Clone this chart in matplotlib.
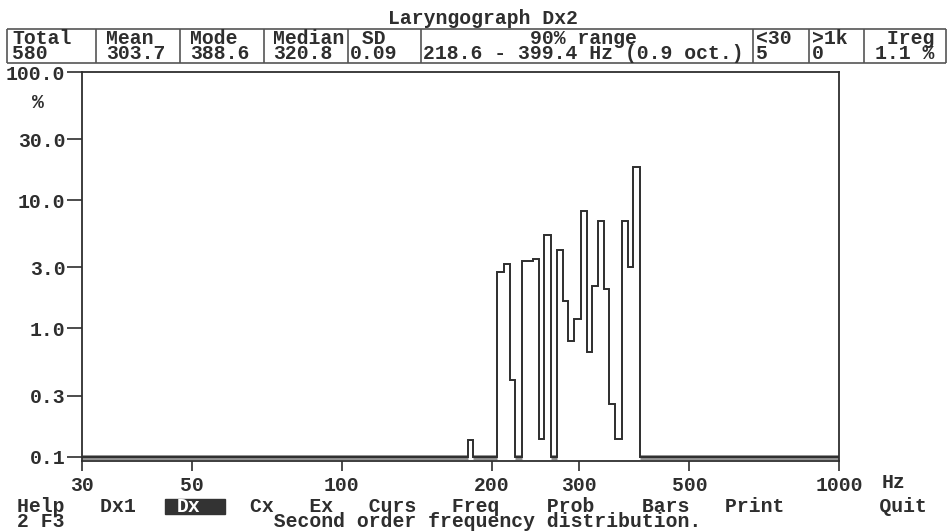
import numpy as np
import matplotlib.pyplot as plt
from matplotlib.patches import Rectangle

# histograma de frecuencias (Dx2), % por bin, escala log en ambos ejes
bin_edges_hz = [30, 179.6, 183.8, 205.4, 212.2, 217.9, 223.0, 230.0, 242.7, 249.2,
                255.0, 263.1, 270.5, 278.2, 285.5, 293.5, 302.3, 310.9, 319.1,
                328.0, 337.3, 345.2, 354.4, 365.6, 375.9, 385.8, 398.0, 1000]
bin_pct = [0.1, 0.135, 0.1, 2.74, 3.18, 0.40, 0.1, 3.38, 3.48, 0.137,
           5.4, 0.1, 4.12, 1.63, 0.80, 1.18, 8.3, 0.65, 2.16,
           6.9, 2.03, 0.26, 0.137, 6.9, 3.0, 18.1, 0.1]
floor_pct = 0.1

x_ticks = [30, 50, 100, 200, 300, 500, 1000]
y_ticks = [0.1, 0.3, 1.0, 3.0, 10.0, 30.0, 100.0]

stat_names = ["Total", "Mean", "Mode", "Median", "SD", "90% range", "<30", ">1k", "Ireg"]
stat_values = ["580", "303.7", "388.6", "320.8", "0.09",
               "218.6 - 399.4 Hz (0.9 oct.)", "5", "0", "1.1 %"]
menu_left = ["Help", "Dx1"]
menu_sel = "Dx"
menu_right = ["Cx", "Ex", "Curs", "Freq", "Prob", "Bars", "Print", "Quit"]
key_hint = "2 F3"
title = "Laryngograph Dx2"
status = "Second order frequency distribution."

FONT = "Liberation Mono"
FS = 14.2
INK = "#2e2e2e"
LS = 0.76

fig = plt.figure(figsize=(9.48, 5.31), dpi=100)
fig.patch.set_facecolor("white")

# eje principal
ax = fig.add_axes([82 / 948, (531 - 460.7) / 531, (839 - 82) / 948, (460.7 - 72) / 531])
ax.set_xscale("log")
ax.set_yscale("log")
ax.set_xlim(30, 1000)
ax.set_ylim(0.0931, 100)

edges = np.array(bin_edges_hz)
vals = np.array(bin_pct)
# banda gris del piso (bins vacios)
for i in np.where(vals <= floor_pct)[0]:
    ax.hlines(floor_pct, edges[i], edges[i + 1], color="#8c8c8c", lw=3.5, zorder=1)
ax.stairs(vals, edges, baseline=None, color=INK, lw=1.4, zorder=2)

ax.xaxis.set_minor_locator(plt.NullLocator())
ax.yaxis.set_minor_locator(plt.NullLocator())
ax.set_xticks(x_ticks)
ax.set_xticklabels([str(v) for v in x_ticks])
ax.set_yticks(y_ticks)
ax.set_yticklabels([f"{v:.1f}" for v in y_ticks])
ax.tick_params(axis="y", length=11, width=1.2, pad=1, color=INK, labelcolor=INK)
ax.tick_params(axis="x", length=7, width=1.2, pad=4, color=INK, labelcolor=INK)
for lab in ax.get_xticklabels() + ax.get_yticklabels():
    lab.set_family(FONT)
    lab.set_fontsize(FS)
    lab.set_fontweight("bold")
for sp in ax.spines.values():
    sp.set_color(INK)
    sp.set_linewidth(1.3)

# capa de texto en pixeles
ov = fig.add_axes([0, 0, 1, 1], zorder=-1)
ov.set_xlim(0, 948)
ov.set_ylim(531, 0)
ov.axis("off")

def txt(x, y, s, ha="left", va="center", color=INK, **kw):
    ov.text(x, y, s, ha=ha, va=va, family=FONT, fontsize=FS, fontweight="bold",
            color=color, linespacing=LS, **kw)

txt(483, 19, title, ha="center")

# tabla de estadisticas
dividers = [7, 96, 180, 264, 348, 421, 753, 809, 864, 946]
ov.hlines([29, 63], dividers[0], dividers[-1], color="#555", lw=1.2)
ov.vlines(dividers, 29, 63, color="#555", lw=1.2)
cell_x = [12, 106, 190, 273, 350, 423, 756, 812, 875]
indent = {"SD": 1, "Ireg": 1}
for name, val, cx in zip(stat_names, stat_values, cell_x):
    cell = " " * indent.get(name, 0) + name + "\n" + val
    txt(cx, 59, cell, va="baseline", multialignment="center" if name == "90% range" else "left")

txt(38, 103, "%", ha="center")
txt(882, 482, "Hz")

# menu inferior (rejilla de caracteres)
def menu_line(items, cols):
    line = [" "] * (max(cols) + 8)
    for item, c in zip(items, cols):
        line[c:c + len(item)] = list(item)
    return "".join(line).rstrip()

x_left = 17
txt(x_left, 527, menu_line(menu_left, [0, 7]) + "\n" + key_hint, va="baseline")
ov.add_patch(Rectangle((165, 499), 60, 15, color="#333"))
txt(177, 512, menu_sel, va="baseline", color="white")
x_right = 250
txt(x_right, 527, menu_line(menu_right, [0, 5, 10, 17, 25, 33, 40, 53]) + "\n"
    + menu_line([status], [2]), va="baseline")

fig.savefig("out.png", dpi=100)
